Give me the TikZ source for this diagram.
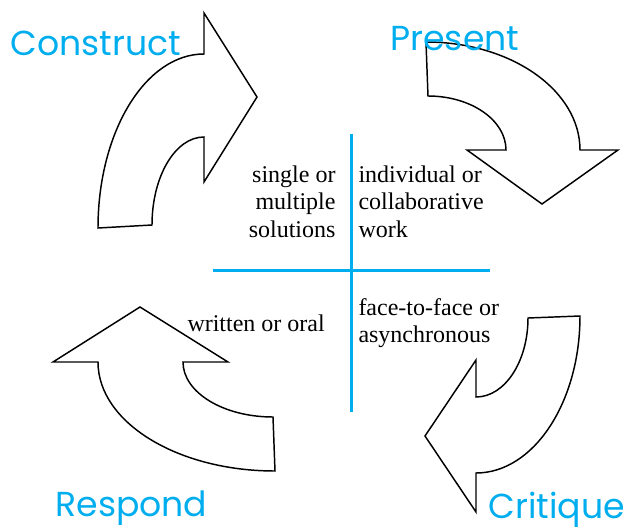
\documentclass[tikz,border=0pt]{standalone}
\usepackage{fontspec}
\setmainfont{Liberation Serif}
\newfontfamily\stagefont{Poppins}
\definecolor{stagecyan}{RGB}{0,174,239}
\tikzset{every picture/.style={line width=0.75pt},
  stage/.style={text=stagecyan, font=\stagefont\fontsize{26}{30}\selectfont, inner sep=0pt},
  note/.style={font=\fontsize{18}{20.6}\selectfont, inner sep=0pt},
  bigarrow/.style={line width=1.1pt, line join=miter},
  axisline/.style={draw=stagecyan, line width=2.25pt}}
\begin{document}
\begin{tikzpicture}[x=0.75pt,y=0.75pt,yscale=-1,xscale=1]
\useasboundingbox (0,0) rectangle (626,529);

%Shape: Curved Right Arrow [id:construct]
\draw [bigarrow] (98,228) .. controls (98,131.9) and (145.5,54) .. (204,54) -- (204,13) -- (257,97) -- (204,182) -- (204,137) .. controls (175.3,137) and (152,176.4) .. (152,225) -- cycle ;
%Shape: Curved Down Arrow [id:present]
\draw [bigarrow] (426,42) .. controls (511.1,42) and (580,90.4) .. (580,150) -- (618,150) -- (542,204) -- (467,150) -- (506,150) .. controls (506,120.2) and (471.1,96) .. (428,96) -- cycle ;
%Shape: Curved Left Arrow [id:critique]
\draw [bigarrow] (528,318) -- (580,316) .. controls (580,402.7) and (533.4,473) .. (476,473) -- (476,512) -- (425,436) -- (476,360) -- (476,397) .. controls (504.7,397) and (528,361.6) .. (528,318) -- cycle ;
%Shape: Curved Up Arrow [id:respond]
\draw [bigarrow] (275,471) -- (273,417) .. controls (223.3,417) and (183,392.4) .. (183,362) -- (228,362) -- (140,307) -- (53,362) -- (98,362) .. controls (98,422.2) and (177.2,471) .. (275,471) -- cycle ;

%Straight Lines [id:cross]
\coordinate (vtop) at (351,134) ;
\coordinate (vbot) at (351,412) ;
\coordinate (hleft) at (213,270) ;
\coordinate (hright) at (490,270) ;
\draw [axisline] (vtop) -- (vbot) ;
\draw [axisline] (hleft) -- (hright) ;

% Text Node
\draw (10,55) node [stage, anchor=base west] (construct) {Construct};
% Text Node
\draw (390,50) node [stage, anchor=base west] (present) {Present};
% Text Node
\draw (55,516) node [stage, anchor=base west] (respond) {Respond};
% Text Node
\draw (488,518) node [stage, anchor=base west] (critique) {Critique};

% Text Node
\draw (336,165) node [note, anchor=north east, align=right] (solutions) {single or\\multiple\\solutions};
% Text Node
\draw (358,165) node [note, anchor=north west, align=left] (work) {individual or\\collaborative\\work};
% Text Node
\draw (187,331) node [note, anchor=base west] (oral) {written or oral};
% Text Node
\draw (358,298) node [note, anchor=north west, align=left] (sync) {face-to-face or\\asynchronous};

\end{tikzpicture}
\end{document}
